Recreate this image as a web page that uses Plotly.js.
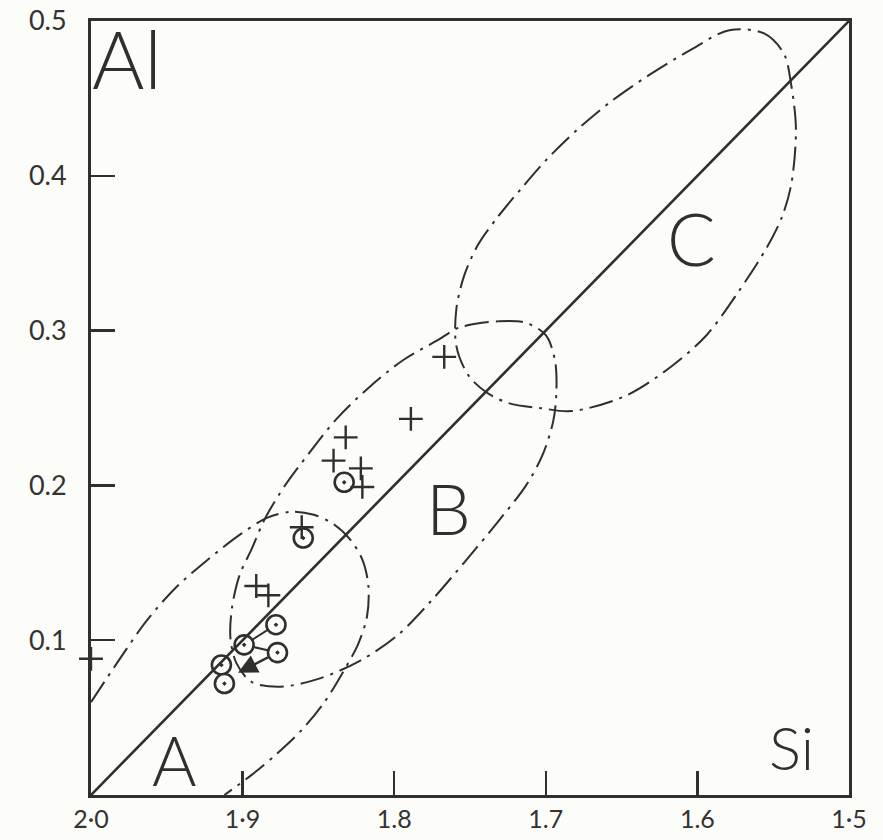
<!DOCTYPE html>
<html lang="en">
<head>
<meta charset="utf-8">
<title>Al – Si fields</title>
<script src="https://cdn.plot.ly/plotly-3.0.1.min.js"></script>
<style>
  html, body { margin: 0; padding: 0; background: #fcfcf8; }
  #graph { width: 883px; height: 840px; }
</style>
</head>
<body>
<div id="graph"></div>
<script>
// axis ticks as lettered on the drawing
const xTickVals = [2.0, 1.9, 1.8, 1.7, 1.6, 1.5];
const xTickText = ['2·0', '1·9', '1.8', '1.7', '1.6', '1·5'];
const yTickVals = [0.1, 0.2, 0.3, 0.4, 0.5];
const yTickText = ['0.1', '0.2', '0.3', '0.4', '0.5'];

// Si + Al = 2 line
const diagonalSi = [2.0, 1.5];
const diagonalAl = [0, 0.5];

// field outlines (Si, Al)
const fieldASi = [2.0, 1.983, 1.963, 1.943, 1.923, 1.902, 1.884, 1.868, 1.853, 1.840, 1.829, 1.821, 1.817, 1.818, 1.824, 1.834, 1.846, 1.861, 1.877, 1.894, 1.912];
const fieldAAl = [0.060, 0.085, 0.113, 0.135, 0.152, 0.168, 0.179, 0.183, 0.181, 0.175, 0.165, 0.152, 0.135, 0.115, 0.097, 0.079, 0.060, 0.042, 0.027, 0.013, 0];

const fieldBSi = [1.757, 1.731, 1.713, 1.700, 1.694, 1.693, 1.695, 1.702, 1.713, 1.732, 1.754, 1.776, 1.798, 1.822, 1.850, 1.875, 1.894, 1.904, 1.908, 1.907, 1.902, 1.894, 1.885, 1.872, 1.856, 1.838, 1.817, 1.794, 1.771];
const fieldBAl = [0.302, 0.306, 0.305, 0.297, 0.281, 0.261, 0.242, 0.220, 0.200, 0.176, 0.150, 0.125, 0.103, 0.087, 0.075, 0.070, 0.073, 0.085, 0.101, 0.121, 0.142, 0.159, 0.179, 0.200, 0.221, 0.243, 0.263, 0.281, 0.294];

const fieldCSi = [1.579, 1.556, 1.543, 1.538, 1.535, 1.538, 1.544, 1.554, 1.573, 1.594, 1.617, 1.647, 1.683, 1.704, 1.724, 1.739, 1.751, 1.759, 1.759, 1.754, 1.745, 1.732, 1.716, 1.699, 1.679, 1.657, 1.632, 1.605];
const fieldCAl = [0.494, 0.492, 0.479, 0.458, 0.430, 0.395, 0.374, 0.354, 0.325, 0.297, 0.277, 0.258, 0.248, 0.250, 0.253, 0.260, 0.271, 0.290, 0.314, 0.335, 0.355, 0.373, 0.392, 0.411, 0.430, 0.448, 0.465, 0.481];

// analyses
const plusSi = [1.767, 1.789, 1.832, 1.840, 1.822, 1.821, 1.861, 1.891, 1.883, 2.0];
const plusAl = [0.283, 0.243, 0.231, 0.216, 0.211, 0.199, 0.173, 0.135, 0.129, 0.088];

const circleSi = [1.833, 1.860, 1.878, 1.899, 1.877, 1.914, 1.912];
const circleAl = [0.202, 0.166, 0.110, 0.097, 0.092, 0.084, 0.072];

// tie lines between circled analyses (null = break)
const tieSi = [1.899, 1.878, null, 1.899, 1.877];
const tieAl = [0.097, 0.110, null, 0.097, 0.092];

// trend arrow: tail, head
const arrowSi = [1.877, 1.903];
const arrowAl = [0.092, 0.079];

// lettering
const fieldNames = ['A', 'B', 'C'];
const fieldLabelSi = [1.945, 1.764, 1.604];
const fieldLabelAl = [0.023, 0.186, 0.360];
const elementNames = ['Al', 'Si'];
const elementLabelSi = [1.976, 1.538];
const elementLabelAl = [0.476, 0.031];

const INK = '#2f2f2f';
const PAPER = '#fcfcf8';
const DASH_DOT = '24px,7px,3px,7px';
const LETTER_FONT = 'Lato, "Liberation Sans", sans-serif';

function closeLoop(values) {
  return values.concat([values[0]]);
}

function outlineTrace(si, al) {
  return {
    type: 'scatter',
    mode: 'lines',
    x: si,
    y: al,
    line: { color: INK, width: 2, dash: DASH_DOT, shape: 'spline', smoothing: 0.9 },
    hoverinfo: 'skip',
    showlegend: false
  };
}

function buildTraces() {
  return [
    outlineTrace(fieldASi, fieldAAl),
    outlineTrace(closeLoop(fieldBSi), closeLoop(fieldBAl)),
    outlineTrace(closeLoop(fieldCSi), closeLoop(fieldCAl)),
    {
      type: 'scatter',
      mode: 'lines',
      x: tieSi,
      y: tieAl,
      line: { color: INK, width: 2 },
      hoverinfo: 'skip',
      showlegend: false
    },
    {
      type: 'scatter',
      mode: 'markers',
      x: circleSi,
      y: circleAl,
      marker: { symbol: 'circle-dot', size: 19, color: PAPER, line: { color: INK, width: 2.6 } },
      showlegend: false
    },
    {
      type: 'scatter',
      mode: 'lines',
      x: diagonalSi,
      y: diagonalAl,
      line: { color: INK, width: 2.6 },
      hoverinfo: 'skip',
      showlegend: false
    },
    {
      type: 'scatter',
      mode: 'markers',
      x: plusSi,
      y: plusAl,
      cliponaxis: false,
      marker: { symbol: 'cross-thin-open', size: 17, color: INK, line: { color: INK, width: 2.4 } },
      showlegend: false
    }
  ];
}

function buildAnnotations() {
  const letter = (text, x, y, size) => ({
    text,
    x,
    y,
    xref: 'x',
    yref: 'y',
    showarrow: false,
    xanchor: 'center',
    yanchor: 'middle',
    font: { family: LETTER_FONT, size, weight: 300, color: INK }
  });

  const fieldSizes = [68, 71, 72];
  const elementSizes = [80, 60];
  const notes = [];
  fieldNames.forEach((name, i) => notes.push(letter(name, fieldLabelSi[i], fieldLabelAl[i], fieldSizes[i])));
  elementNames.forEach((name, i) => notes.push(letter(name, elementLabelSi[i], elementLabelAl[i], elementSizes[i])));

  notes.push({
    x: arrowSi[1],
    y: arrowAl[1],
    ax: arrowSi[0],
    ay: arrowAl[0],
    xref: 'x',
    yref: 'y',
    axref: 'x',
    ayref: 'y',
    text: '',
    showarrow: true,
    arrowhead: 2,
    arrowsize: 1.6,
    arrowwidth: 2.4,
    arrowcolor: INK,
    standoff: 0,
    startstandoff: 9
  });
  return notes;
}

function axisStyle(extra) {
  return Object.assign({
    showgrid: false,
    zeroline: false,
    showline: true,
    linecolor: INK,
    linewidth: 3,
    mirror: true,
    ticks: 'inside',
    ticklen: 24,
    tickwidth: 2.5,
    tickcolor: INK,
    tickmode: 'array',
    tickfont: { family: LETTER_FONT, size: 27, color: '#333333' },
    fixedrange: true
  }, extra);
}

function getLayout() {
  return {
    width: 883,
    height: 840,
    paper_bgcolor: PAPER,
    plot_bgcolor: PAPER,
    margin: { l: 91, r: 34, t: 21, b: 45 },
    showlegend: false,
    xaxis: axisStyle({
      range: [2.0, 1.5],
      tickvals: xTickVals,
      ticktext: xTickText,
      tickfont: { family: LETTER_FONT, size: 25, color: '#333333' },
      ticklabelstandoff: 0
    }),
    yaxis: axisStyle({
      range: [0, 0.5],
      tickvals: yTickVals,
      ticktext: yTickText,
      ticklabelstandoff: 16
    }),
    annotations: buildAnnotations()
  };
}

function init() {
  Plotly.newPlot('graph', buildTraces(), getLayout(), { displayModeBar: false, staticPlot: true });
}

document.addEventListener('DOMContentLoaded', init);
</script>
</body>
</html>
